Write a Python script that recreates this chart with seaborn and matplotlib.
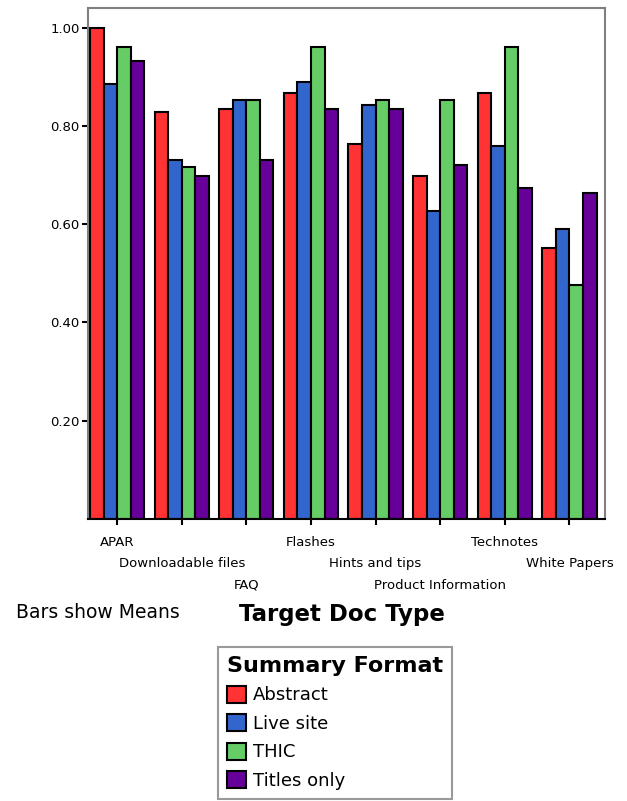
import pandas as pd
import seaborn as sns
import matplotlib.pyplot as plt

# Data (means per doc type and summary format)
doc_types = ["APAR", "Downloadable files", "FAQ", "Flashes",
             "Hints and tips", "Product Information", "Technotes", "White Papers"]
formats = ["Abstract", "Live site", "THIC", "Titles only"]
abstract = [1.00, 0.829, 0.834, 0.867, 0.763, 0.699, 0.867, 0.552]
live_site = [0.885, 0.730, 0.852, 0.890, 0.842, 0.627, 0.759, 0.590]
thic = [0.960, 0.717, 0.852, 0.960, 0.852, 0.852, 0.960, 0.477]
titles_only = [0.933, 0.699, 0.730, 0.834, 0.834, 0.721, 0.674, 0.664]
colors = ["#FF3333", "#3366CC", "#66CC66", "#660099"]
y_ticks = [0.20, 0.40, 0.60, 0.80, 1.00]

data = pd.DataFrame({
    "Target Doc Type": doc_types * 4,
    "Summary Format": sum([[f] * len(doc_types) for f in formats], []),
    "Mean": abstract + live_site + thic + titles_only,
})

sns.set_style("white")
plt.rcParams["font.family"] = ["DejaVu Sans"]
plt.rcParams["text.color"] = "black"
plt.rcParams["xtick.color"] = "black"
plt.rcParams["ytick.color"] = "black"

fig = plt.figure(figsize=(6.27, 8.01), dpi=100)
ax = fig.add_axes([88 / 627, 1 - 519 / 801, 517 / 627, 511 / 801])

sns.barplot(data=data, x="Target Doc Type", y="Mean", hue="Summary Format",
            hue_order=formats, order=doc_types, palette=colors, width=0.84,
            saturation=1, edgecolor="black", linewidth=1.5, errorbar=None, ax=ax)

ax.set_xlim(-0.45, 7.55)
ax.set_ylim(0, 1.04)
ax.set_yticks(y_ticks)
ax.set_yticklabels([f"{v:.2f}" for v in y_ticks], fontsize=9.5)
ax.tick_params(axis="y", direction="out", length=4, width=1.5, pad=2, left=True)
ax.tick_params(axis="x", direction="out", length=4, width=1.5, bottom=True)

# staggered category labels in three rows
ax.set_xticks(range(len(doc_types)))
ax.set_xticklabels(doc_types, fontsize=9.5)
for i, tick in enumerate(ax.xaxis.get_major_ticks()):
    tick.set_pad(8 + 15.5 * (i % 3))
ax.set_xlabel("")
ax.set_ylabel("")

for side in ["top", "right", "left"]:
    ax.spines[side].set_color("#808080")
    ax.spines[side].set_linewidth(1.5)
ax.spines["bottom"].set_color("black")
ax.spines["bottom"].set_linewidth(1.5)

fig.text(16 / 627, 1 - 613 / 801, "Bars show Means", fontsize=13.5, va="center", ha="left")
fig.text(342 / 627, 1 - 615 / 801, "Target Doc Type", fontsize=16.5, fontweight="bold",
         va="center", ha="center")

ax.get_legend().remove()
handles = [plt.Rectangle((0, 0), 1, 1, facecolor=c, edgecolor="black", linewidth=1.5)
           for c in colors]
leg = fig.legend(handles, formats, title="Summary Format", loc="upper left",
                 bbox_to_anchor=(218 / 627, 1 - 647 / 801), frameon=True, fancybox=False,
                 fontsize=13, title_fontproperties={"size": 16, "weight": "bold"},
                 handlelength=1.05, handleheight=1.05, handletextpad=0.4,
                 labelspacing=0.55, borderpad=0.5, borderaxespad=0)
leg._legend_box.align = "left"
leg.get_frame().set_edgecolor("#808080")
leg.get_frame().set_linewidth(1.5)

fig.savefig("out.png", dpi=100)
